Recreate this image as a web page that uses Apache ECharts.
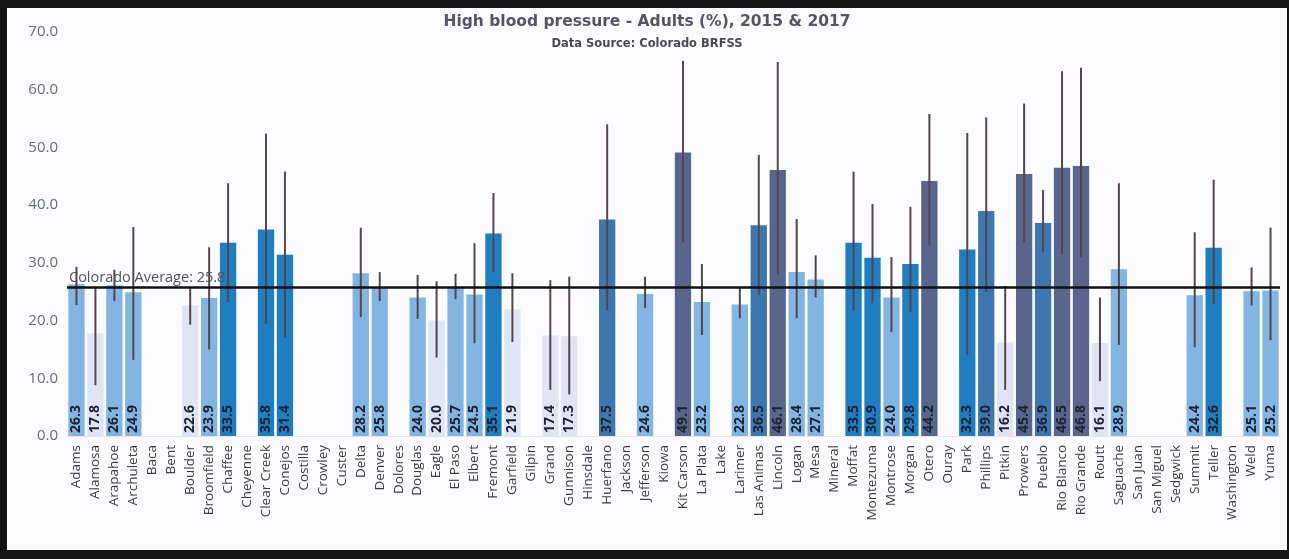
<!DOCTYPE html>
<html>
<head>
<meta charset="utf-8">
<script src="https://cdn.jsdelivr.net/npm/echarts@6/dist/echarts.min.js"></script>
<style>
  html, body { margin: 0; padding: 0; background: #141414; width: 1289px; height: 559px; overflow: hidden; }
  #chart { position: absolute; left: 7px; top: 8px; width: 1280px; height: 542px; background: #fbfbfd; }
</style>
</head>
<body>
<div id="chart"></div>
<script>
const counties = ["Adams","Alamosa","Arapahoe","Archuleta","Baca","Bent","Boulder","Broomfield","Chaffee","Cheyenne","Clear Creek","Conejos","Costilla","Crowley","Custer","Delta","Denver","Dolores","Douglas","Eagle","El Paso","Elbert","Fremont","Garfield","Gilpin","Grand","Gunnison","Hinsdale","Huerfano","Jackson","Jefferson","Kiowa","Kit Carson","La Plata","Lake","Larimer","Las Animas","Lincoln","Logan","Mesa","Mineral","Moffat","Montezuma","Montrose","Morgan","Otero","Ouray","Park","Phillips","Pitkin","Prowers","Pueblo","Rio Blanco","Rio Grande","Routt","Saguache","San Juan","San Miguel","Sedgwick","Summit","Teller","Washington","Weld","Yuma"];

const values = [26.3,17.8,26.1,24.9,null,null,22.6,23.9,33.5,null,35.8,31.4,null,null,null,28.2,25.8,null,24.0,20.0,25.7,24.5,35.1,21.9,null,17.4,17.3,null,37.5,null,24.6,null,49.1,23.2,null,22.8,36.5,46.1,28.4,27.1,null,33.5,30.9,24.0,29.8,44.2,null,32.3,39.0,16.2,45.4,36.9,46.5,46.8,16.1,28.9,null,null,null,24.4,32.6,null,25.1,25.2];

const lows  = [22.7,8.8,23.4,13.2,null,null,19.3,15.0,23.2,null,19.4,17.0,null,null,null,20.6,23.4,null,20.3,13.6,23.7,16.1,28.4,16.3,null,8.0,7.2,null,21.8,null,22.2,null,33.5,17.5,null,20.4,24.5,28.0,20.4,24.0,null,21.7,23.0,18.0,21.5,33.0,null,14.0,25.0,8.0,33.5,31.8,31.5,31.0,9.5,15.8,null,null,null,15.4,22.8,null,22.6,16.6];

const highs = [29.3,25.8,28.8,36.2,null,null,25.6,32.7,43.8,null,52.4,45.8,null,null,null,36.1,28.4,null,27.9,26.8,28.1,33.4,42.1,28.2,null,27.0,27.6,null,54.0,null,27.6,null,65.0,29.8,null,25.8,48.7,64.8,37.6,31.3,null,45.8,40.2,31.0,39.7,55.8,null,52.5,55.2,26.0,57.6,42.6,63.2,63.8,24.0,43.8,null,null,null,35.3,44.4,null,29.2,36.1];

const yTicks = [0, 10, 20, 30, 40, 50, 60, 70];
const coloradoAverage = 25.8;

const errorData = counties.map((c, i) => [i, lows[i], highs[i]]).filter(d => d[1] !== null);

const chart = echarts.init(document.getElementById('chart'));
chart.setOption({
  animation: false,
  backgroundColor: '#fbfbfd',
  title: [
    { text: 'High blood pressure - Adults (%), 2015 & 2017', left: 'center', top: 1,
      textStyle: { fontFamily: 'DejaVu Sans', fontWeight: 'bold', fontSize: 15.5, color: '#555566' } },
    { text: 'Data Source: Colorado BRFSS', left: 'center', top: 25,
      textStyle: { fontFamily: 'DejaVu Sans', fontWeight: 'bold', fontSize: 11.5, color: '#4a4a55' } }
  ],
  grid: { left: 60, right: 7, top: 24, bottom: 114 },
  visualMap: {
    show: false, type: 'piecewise', seriesIndex: 0, dimension: 1,
    pieces: [
      { lt: 22.7, color: '#dfe5f5' },
      { gte: 22.7, lt: 29.5, color: '#83b5e3' },
      { gte: 29.5, lt: 36, color: '#1f7dc1' },
      { gte: 36, lt: 40, color: '#3e77b0' },
      { gte: 40, color: '#58668e' }
    ]
  },
  xAxis: {
    type: 'category', data: counties,
    axisLine: { show: true, lineStyle: { color: '#e4e4ee' } },
    axisTick: { show: false },
    axisLabel: { interval: 0, rotate: 90, margin: 9, fontFamily: 'Open Sans', fontSize: 13.5, color: '#3b3b4a' }
  },
  yAxis: {
    type: 'value', min: 0, max: 70, interval: 10,
    splitLine: { show: false },
    axisLine: { show: false }, axisTick: { show: false },
    axisLabel: { margin: 9, fontFamily: 'Open Sans', fontSize: 15, color: '#6a6a8c',
      formatter: v => v.toFixed(1) }
  },
  series: [
    {
      type: 'bar', data: values, barCategoryGap: '14%',
      label: {
        show: true, position: 'insideBottom', rotate: 90, align: 'left', verticalAlign: 'middle',
        distance: 3, fontFamily: 'Open Sans', fontSize: 14, fontWeight: 'bold', color: '#1e2233',
        formatter: p => (p.value == null ? '' : Number(p.value).toFixed(1))
      },
      markLine: {
        symbol: 'none', silent: true,
        lineStyle: { color: '#111', width: 2.5, type: 'solid' },
        label: { show: true, position: 'insideStartTop', distance: [2, 2],
          formatter: 'Colorado Average: ' + coloradoAverage.toFixed(1),
          fontFamily: 'Open Sans', fontSize: 14.5, color: '#555560' },
        data: [{ yAxis: coloradoAverage }]
      },
      z: 2
    },
    {
      type: 'custom', data: errorData, z: 3,
      renderItem: (params, api) => {
        const x = api.value(0);
        const p1 = api.coord([x, api.value(1)]);
        const p2 = api.coord([x, api.value(2)]);
        return { type: 'line', shape: { x1: p1[0], y1: p1[1], x2: p2[0], y2: p2[1] },
          style: { stroke: '#54464a', lineWidth: 2 } };
      },
      encode: { x: 0, y: [1, 2] }
    }
  ]
});
</script>
</body>
</html>
